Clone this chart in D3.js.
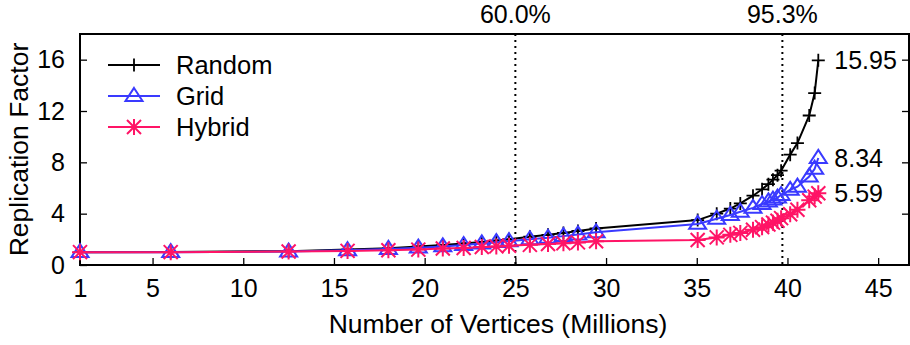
<!DOCTYPE html>
<html>
<head>
<meta charset="utf-8">
<script src="https://cdn.jsdelivr.net/npm/d3@7"></script>
<style>
  html, body { margin: 0; padding: 0; background: #fff; }
  svg { display: block; font-family: "Liberation Sans", Arial, Helvetica, sans-serif; }
</style>
</head>
<body>
<svg id="chart" width="910" height="345"></svg>
<script>
// Vertex counts (millions) at which replication was measured
const vertices = [1, 6, 12.5, 15.75, 18, 19.65, 21, 22.15, 23.15, 23.95, 24.65, 25.8, 26.8, 27.65, 28.45, 29.45,
  35.05, 36.1, 36.85, 37.4, 38.1, 38.6, 38.95, 39.2, 39.45, 39.65, 40.15, 40.55, 41.2, 41.5, 41.7];

// Replication factor per partitioning strategy
const randomRF = [1.0, 1.02, 1.08, 1.2, 1.3, 1.45, 1.55, 1.68, 1.8, 1.9, 2.0, 2.2, 2.35, 2.5, 2.65, 2.85,
  3.5, 4.0, 4.4, 4.8, 5.4, 5.9, 6.3, 6.65, 7.0, 7.35, 8.6, 9.5, 11.65, 13.4, 15.95];
const gridRF = [1.0, 1.0, 1.05, 1.15, 1.25, 1.35, 1.45, 1.55, 1.68, 1.78, 1.85, 2.0, 2.12, 2.25, 2.38, 2.55,
  3.2, 3.6, 3.9, 4.15, 4.45, 4.75, 4.95, 5.1, 5.25, 5.45, 5.85, 6.1, 6.9, 7.5, 8.34];
const hybridRF = [1.0, 1.0, 1.05, 1.1, 1.15, 1.2, 1.28, 1.33, 1.4, 1.45, 1.5, 1.57, 1.63, 1.7, 1.76, 1.85,
  1.95, 2.15, 2.35, 2.5, 2.75, 2.95, 3.15, 3.3, 3.45, 3.65, 3.95, 4.3, 5.05, 5.33, 5.59];

const seriesNames = ["Random", "Grid", "Hybrid"];
const seriesColors = ["#000000", "#3a3aff", "#ff1466"];
const seriesMarkers = ["plus", "triangle", "star"];

const xTicks = [1, 5, 10, 15, 20, 25, 30, 35, 40, 45];
const yTicks = [0, 4, 8, 12, 16];

// Reference lines: share of vertices covered
const markerLines = [25, 39.72];
const markerLabels = ["60.0%", "95.3%"];

const svg = d3.select("#chart");
const FONT = 25;
const LEGEND_FONT = 25.5;
const TITLE_FONT = 26.5;

const x = d3.scaleLinear().domain([1, 46.7]).range([80, 909]);
const y = d3.scaleLinear().domain([0, 18]).range([265, 34]);

const [x0, x1] = x.range();
const [yb, yt] = y.range();

// Axes: ticks pointing inward, gnuplot style
const gx = svg.append("g").attr("transform", `translate(0,${yb})`)
  .call(d3.axisBottom(x).tickValues(xTicks).tickSize(-7).tickPadding(14).tickFormat(d3.format("d")));
const gy = svg.append("g").attr("transform", `translate(${x0},0)`)
  .call(d3.axisLeft(y).tickValues(yTicks).tickSize(-7).tickPadding(15).tickFormat(d3.format("d")));
const gy2 = svg.append("g").attr("transform", `translate(${x1},0)`)
  .call(d3.axisRight(y).tickValues(yTicks.filter(d => d > 0)).tickSize(-7).tickFormat(""));

[gx, gy, gy2].forEach(g => {
  g.select(".domain").remove();
  g.selectAll(".tick line").attr("stroke", "#000").attr("stroke-width", 1.3);
  g.selectAll(".tick text").attr("fill", "#000").attr("font-size", FONT)
    .attr("font-family", "Liberation Sans, Arial, sans-serif");
});
gx.selectAll(".tick").filter(d => d === 1).select("line").remove();

// Plot frame
svg.append("rect")
  .attr("x", x0).attr("y", yt).attr("width", x1 - x0).attr("height", yb - yt)
  .attr("fill", "none").attr("stroke", "#000").attr("stroke-width", 2);

// Dotted reference lines and their labels
markerLines.forEach((v, i) => {
  svg.append("line")
    .attr("x1", x(v)).attr("x2", x(v)).attr("y1", yt).attr("y2", yb)
    .attr("stroke", "#000").attr("stroke-width", 2).attr("stroke-dasharray", "2,4");
  svg.append("text")
    .attr("x", x(v)).attr("y", 23).attr("text-anchor", "middle")
    .attr("font-size", FONT).text(markerLabels[i]);
});

// Point symbols: plus, open triangle, and eight-armed asterisk
function drawMarker(g, type, cx, cy, color) {
  if (type === "plus") {
    const s = 6.5;
    g.append("path").attr("d", `M${cx - s},${cy}H${cx + s}M${cx},${cy - s}V${cy + s}`)
      .attr("stroke", color).attr("stroke-width", 1.8).attr("fill", "none");
  } else if (type === "triangle") {
    const w = 8.5, h = 13;
    g.append("path")
      .attr("d", `M${cx},${cy - h * 0.62}L${cx + w},${cy + h * 0.38}L${cx - w},${cy + h * 0.38}Z`)
      .attr("stroke", color).attr("stroke-width", 2).attr("fill", "none");
  } else {
    const s = 8, d2 = 7;
    const d = `M${cx - s},${cy}H${cx + s}M${cx},${cy - s}V${cy + s}` +
      `M${cx - d2},${cy - d2}L${cx + d2},${cy + d2}M${cx - d2},${cy + d2}L${cx + d2},${cy - d2}`;
    g.append("path").attr("d", d).attr("stroke", color).attr("stroke-width", 2).attr("fill", "none");
  }
}

const allSeries = [randomRF, gridRF, hybridRF];
const line = d3.line().x(d => x(d[0])).y(d => y(d[1]));

allSeries.forEach((vals, i) => {
  const pts = vertices.map((v, j) => [v, vals[j]]);
  const g = svg.append("g");
  g.append("path").datum(pts).attr("d", line)
    .attr("fill", "none").attr("stroke", seriesColors[i]).attr("stroke-width", 2);
  pts.forEach(p => drawMarker(g, seriesMarkers[i], x(p[0]), y(p[1]), seriesColors[i]));
  // final value label
  const last = pts[pts.length - 1];
  svg.append("text")
    .attr("x", x(last[0]) + 16).attr("y", y(last[1])).attr("dy", "0.36em")
    .attr("font-size", FONT).attr("fill", "#000").text(d3.format(".2f")(last[1]));
});

// Legend
const legend = svg.append("g");
seriesNames.forEach((name, i) => {
  const ly = 65 + i * 31;
  legend.append("line").attr("x1", 108).attr("x2", 160).attr("y1", ly).attr("y2", ly)
    .attr("stroke", seriesColors[i]).attr("stroke-width", 2);
  drawMarker(legend, seriesMarkers[i], 134, ly, seriesColors[i]);
  legend.append("text").attr("x", 176).attr("y", ly).attr("dy", "0.36em")
    .attr("font-size", LEGEND_FONT).attr("fill", "#000").text(name);
});

// Axis titles
svg.append("text")
  .attr("x", 498).attr("y", 333).attr("text-anchor", "middle")
  .attr("font-size", TITLE_FONT).text("Number of Vertices (Millions)");
svg.append("text")
  .attr("transform", `translate(28,${(yt + yb) / 2}) rotate(-90)`)
  .attr("text-anchor", "middle").attr("font-size", TITLE_FONT).text("Replication Factor");
</script>
</body>
</html>
